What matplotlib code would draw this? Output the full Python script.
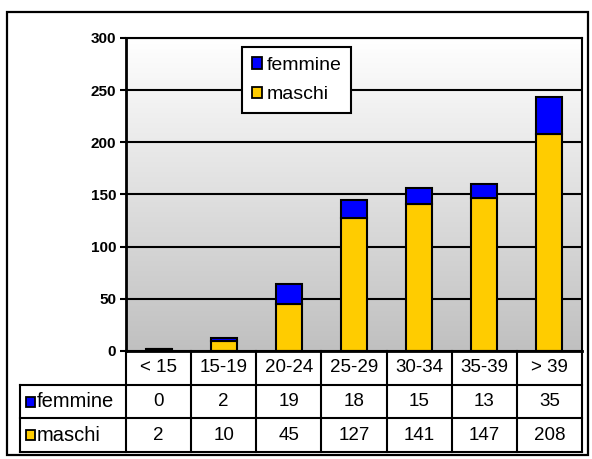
import numpy as np
import matplotlib
matplotlib.use("Agg")
import matplotlib.pyplot as plt
from matplotlib.patches import Rectangle, Patch
from matplotlib.colors import LinearSegmentedColormap

plt.rcParams['font.family'] = ['Liberation Sans', 'DejaVu Sans']

categories = ["< 15", "15-19", "20-24", "25-29", "30-34", "35-39", "> 39"]
femmine = [0, 2, 19, 18, 15, 13, 35]
maschi = [2, 10, 45, 127, 141, 147, 208]
series_names = ["femmine", "maschi"]
yticks = [0, 50, 100, 150, 200, 250, 300]

BLUE = "#0000ff"
YELLOW = "#ffcc00"

W, H = 592, 459
fig = plt.figure(figsize=(W / 100, H / 100), dpi=100)
fig.patch.set_facecolor("white")

def fx(px):
    return px / W

def fy(py):
    return 1 - py / H

# outer frame
fig.add_artist(Rectangle((fx(7), fy(455)), fx(588) - fx(7), fy(12) - fy(455),
                         transform=fig.transFigure, fill=False, edgecolor="black", lw=1.6))

# main axes
L, R, T, B = 126, 582, 38, 351
ax = fig.add_axes([fx(L), fy(B), fx(R) - fx(L), fy(T) - fy(B)])
n = len(categories)
x = np.arange(n)
ax.set_xlim(-0.5, n - 0.5)
ax.set_ylim(0, 300)

# gradient background
cmap = LinearSegmentedColormap.from_list("bg", ["#c0c0c0", "#ffffff"])
grad = np.linspace(0, 1, 256).reshape(-1, 1)
ax.imshow(grad, extent=(-0.5, n - 0.5, 0, 300), origin="lower", aspect="auto",
          cmap=cmap, zorder=0, interpolation="bilinear")

for yt in yticks[1:]:
    ax.axhline(yt, color="black", lw=1.5, zorder=1)

bw = 0.4
ax.bar(x, maschi, width=bw, color=YELLOW, edgecolor="black", lw=1.5, zorder=3)
ax.bar(x, femmine, width=bw, bottom=maschi, color=BLUE, edgecolor="black", lw=1.5, zorder=3)

ax.set_yticks(yticks)
ax.set_yticklabels([str(v) for v in yticks], fontweight="bold", fontsize=11)
ax.tick_params(axis="y", length=4, width=1.5, pad=3)
ax.set_xticks([])
for s in ax.spines.values():
    s.set_color("black")
    s.set_linewidth(1.5)
ax.spines["bottom"].set_linewidth(2)
ax.spines["left"].set_linewidth(2)

# legend
handles = [Patch(facecolor=BLUE, edgecolor="black", lw=1.3, label=series_names[0]),
           Patch(facecolor=YELLOW, edgecolor="black", lw=1.3, label=series_names[1])]
leg = fig.legend(handles=handles, loc="upper left",
                 bbox_to_anchor=(fx(242), fy(47)), borderaxespad=0,
                 fancybox=False, edgecolor="black", framealpha=1,
                 fontsize=14, handlelength=0.55, handleheight=0.55,
                 handletextpad=0.2, labelspacing=0.65, borderpad=0.5)
leg.get_frame().set_linewidth(1.5)

# data table
TL, TB = 20, 452
tax = fig.add_axes([fx(TL), fy(TB), fx(R) - fx(TL), fy(B) - fy(TB)])
unit = (R - L) / n
rowpx = (TB - B) / 3
x0 = -0.5 - (L - TL) / unit
tax.set_xlim(x0, n - 0.5)
tax.set_ylim(3, 0)
tax.axis("off")
lw = 1.5
kw = dict(color="black", lw=lw, clip_on=False, solid_capstyle="projecting")
for yy in [1, 2, 3]:
    tax.plot([x0, n - 0.5], [yy, yy], **kw)
tax.plot([-0.5, n - 0.5], [0, 0], **kw)
tax.plot([x0, x0], [1, 3], **kw)
for xx in np.arange(-0.5, n, 1.0):
    tax.plot([xx, xx], [0, 3], **kw)

fs = 13.5
for i, c in enumerate(categories):
    tax.text(i, 0.5, c, ha="center", va="center", fontsize=fs)
    tax.text(i, 1.5, str(femmine[i]), ha="center", va="center", fontsize=fs)
    tax.text(i, 2.5, str(maschi[i]), ha="center", va="center", fontsize=fs)

sq_w = 9 / unit
sq_h = 10 / rowpx
for r, (name, col) in enumerate(zip(series_names, [BLUE, YELLOW])):
    yc = 1.5 + r
    sx = x0 + 6 / unit
    tax.add_patch(Rectangle((sx, yc - sq_h / 2), sq_w, sq_h, facecolor=col,
                            edgecolor="black", lw=1.3, clip_on=False))
    tax.text(sx + sq_w + 1.5 / unit, yc, name, ha="left", va="center", fontsize=14.5)

fig.savefig("out.png", dpi=100)
